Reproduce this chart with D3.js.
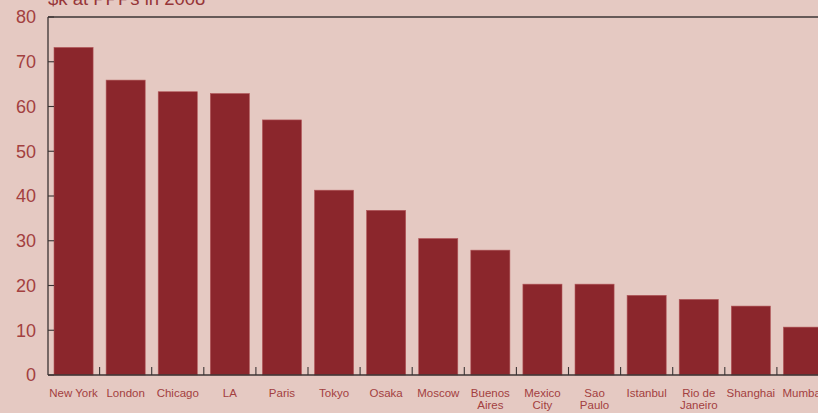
<!DOCTYPE html>
<html lang="en">
<head>
    <meta charset="UTF-8">
    <title>Income per capita</title>
    <style>
        body {
            margin: 0;
            overflow: hidden;
            background: #e5c9c2;
        }
        svg {
            display: block;
        }
        .ylab {
            font-family: "Liberation Sans", Arial, sans-serif;
            font-size: 18px;
            fill: #a3403f;
        }
        .xlab {
            font-family: "Liberation Sans Narrow", "Liberation Sans", Arial, sans-serif;
            font-size: 11.5px;
            fill: #a3403f;
        }
        .title {
            font-family: "Liberation Sans", Arial, sans-serif;
            font-size: 18.5px;
            fill: #963538;
        }
    </style>
</head>
<body>

<svg id="chart" width="818" height="413"></svg>

<script src="https://d3js.org/d3.v7.min.js"></script>
<script>
    const cities = ["New York", "London", "Chicago", "LA", "Paris", "Tokyo", "Osaka", "Moscow",
        "Buenos Aires", "Mexico City", "Sao Paulo", "Istanbul", "Rio de Janeiro", "Shanghai", "Mumbai"];
    const labelLines = [["New York"], ["London"], ["Chicago"], ["LA"], ["Paris"], ["Tokyo"], ["Osaka"],
        ["Moscow"], ["Buenos", "Aires"], ["Mexico", "City"], ["Sao", "Paulo"], ["Istanbul"],
        ["Rio de", "Janeiro"], ["Shanghai"], ["Mumbai"]];
    const gdpPerCapita = [73.2, 65.9, 63.3, 62.9, 57.0, 41.3, 36.8, 30.5, 27.9, 20.3, 20.3, 17.8, 16.9, 15.4, 10.7];
    const yTicks = [0, 10, 20, 30, 40, 50, 60, 70, 80];
    const titleText = "$k at PPPs in 2008";

    function drawChart(svg) {
        const left = 48, plotTop = 17, plotBottom = 375;
        const step = 52.1;

        const x = d3.scaleBand()
            .domain(cities)
            .range([47.5, 47.5 + step * cities.length])
            .paddingInner(0.25)
            .paddingOuter(0.125);

        const y = d3.scaleLinear()
            .domain([0, 80])
            .range([plotBottom, plotTop]);

        // bars
        svg.append("g")
            .selectAll("rect")
            .data(cities)
            .enter()
            .append("rect")
            .attr("x", d => x(d))
            .attr("y", (d, i) => y(gdpPerCapita[i]))
            .attr("width", x.bandwidth())
            .attr("height", (d, i) => plotBottom - y(gdpPerCapita[i]))
            .attr("fill", "#8b262c")
            .attr("stroke", "#b2575a")
            .attr("stroke-width", 0.6);

        // frame: left, top, bottom lines
        const frame = svg.append("g").attr("stroke", "#3b3434").attr("stroke-width", 1.3);
        frame.append("line").attr("x1", left).attr("x2", left).attr("y1", plotTop).attr("y2", plotBottom);
        frame.append("line").attr("x1", left).attr("x2", 818).attr("y1", plotTop).attr("y2", plotTop);
        frame.append("line").attr("x1", left).attr("x2", 818).attr("y1", plotBottom).attr("y2", plotBottom);

        // y axis ticks (inward) and labels
        const yAxis = svg.append("g");
        yAxis.selectAll("line")
            .data(yTicks)
            .enter()
            .append("line")
            .attr("x1", left)
            .attr("x2", left + 6)
            .attr("y1", d => y(d))
            .attr("y2", d => y(d))
            .attr("stroke", "#3b3434")
            .attr("stroke-width", 1.1);
        yAxis.selectAll("text")
            .data(yTicks)
            .enter()
            .append("text")
            .attr("class", "ylab")
            .attr("x", 36)
            .attr("y", d => y(d))
            .attr("dy", "0.36em")
            .attr("text-anchor", "end")
            .text(d => d);

        // x ticks at category boundaries
        svg.append("g")
            .selectAll("line")
            .data(cities.slice(1))
            .enter()
            .append("line")
            .attr("x1", d => x(d) - x.step() * x.paddingInner() / 2)
            .attr("x2", d => x(d) - x.step() * x.paddingInner() / 2)
            .attr("y1", plotBottom)
            .attr("y2", plotBottom - 8)
            .attr("stroke", "#3b3434")
            .attr("stroke-width", 1.1);

        // x labels
        const xl = svg.append("g")
            .selectAll("text")
            .data(cities)
            .enter()
            .append("text")
            .attr("class", "xlab")
            .attr("text-anchor", "middle")
            .attr("transform", d => `translate(${x(d) + x.bandwidth() / 2},397)`);
        xl.selectAll("tspan")
            .data((d, i) => labelLines[i])
            .enter()
            .append("tspan")
            .attr("x", 0)
            .attr("dy", (d, i) => i === 0 ? 0 : 12)
            .text(d => d);

        // title, partly cut off at the top
        svg.append("text")
            .attr("class", "title")
            .attr("x", left)
            .attr("y", 5)
            .text(titleText);
    }

    drawChart(d3.select("#chart"));
</script>

</body>
</html>
